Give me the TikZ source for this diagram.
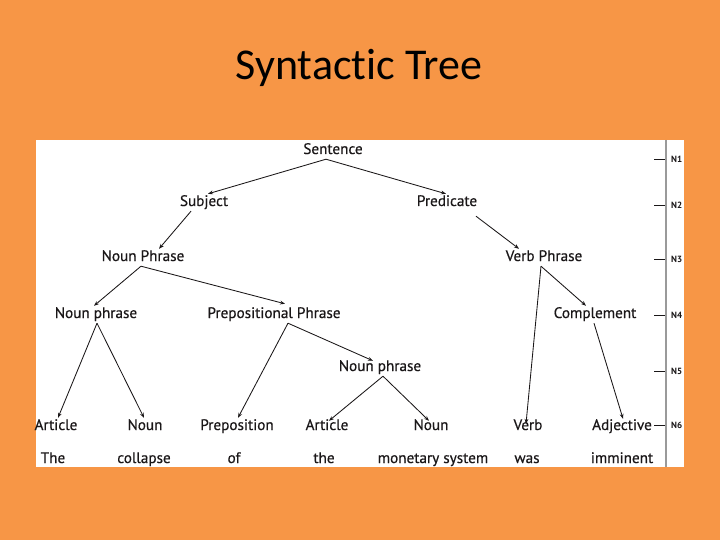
\documentclass[tikz,border=0pt]{standalone}
\usepackage{fontspec}
\setmainfont{PT Sans}
\newfontfamily\treefont[FakeBold=0.5]{PT Sans}
\newfontfamily\titlefont[Ligatures=NoCommon]{Carlito}
\usetikzlibrary{arrows.meta}

\definecolor{slideorange}{HTML}{F79646}
\definecolor{ink}{HTML}{1A1718}
\definecolor{rulegray}{HTML}{9A9A9A}

\begin{document}
\begin{tikzpicture}[
    x=1pt,y=-1pt,
    lbl/.style={
        text=ink,
        anchor=base,
        inner sep=2pt,
        text height=10pt,
        text depth=3pt,
        font=\treefont\fontsize{15.2}{17}\selectfont,
    },
    word/.style={
        lbl,
    },
    lvl/.style={
        text=ink,
        anchor=west,
        inner sep=0pt,
        font=\bfseries\fontsize{9}{10}\selectfont,
    },
    br/.style={
        draw=ink,
        line width=0.85pt,
        -{Stealth[length=5pt,width=3.8pt]},
    },
]

\useasboundingbox (0,0) rectangle (720,540);
\fill[slideorange] (0,0) rectangle (720,540);
\fill[white] (36,140) rectangle (684,467);
\draw[rulegray, line width=1.6pt] (666,140) -- (666,467);

\node[text=black, anchor=base, inner sep=0pt,
      font=\titlefont\fontsize{44}{48}\selectfont] (title) at (359,80) {Syntactic Tree};

% tree
\node[lbl] (sent) at (333,154) {Sentence};
\node[lbl] (subj) at (204,206) {Subject};
\node[lbl] (pred) at (447,206) {Predicate};
\node[lbl] (np)   at (143,261) {Noun Phrase};
\node[lbl] (vp)   at (544,261) {Verb Phrase};
\node[lbl] (npl)  at (96,318)  {Noun phrase};
\node[lbl] (pp)   at (274,318) {Prepositional Phrase};
\node[lbl] (comp) at (595,318) {Complement};
\node[lbl] (npm)  at (380,371) {Noun phrase};

\node[lbl] (art1)  at (56,430)  {Article};
\node[lbl] (noun1) at (145,430) {Noun};
\node[lbl] (prep)  at (237,430) {Preposition};
\node[lbl] (art2)  at (327,430) {Article};
\node[lbl] (noun2) at (431,430) {Noun};
\node[lbl] (verb)  at (528,430) {Verb};
\node[lbl] (adj)   at (622,430) {Adjective};

\node[word] (w1) at (53,463)  {The};
\node[word] (w2) at (144,463) {collapse};
\node[word] (w3) at (234,463) {of};
\node[word] (w4) at (324,463) {the};
\node[word] (w5) at (433,463) {monetary system};
\node[word] (w6) at (527,463) {was};
\node[word] (w7) at (622,463) {imminent};

\draw[br] ([xshift=-7pt]sent.south) -- ([xshift=4pt]subj.north);
\draw[br] ([xshift=-7pt]sent.south) -- ([xshift=-1pt]pred.north);
\draw[br] ([xshift=-13pt]subj.south) -- ([xshift=16pt]np.north);
\draw[br] ([xshift=29pt,yshift=-5pt]pred.south) -- ([xshift=-25pt]vp.north);

\draw[br] ([xshift=-2pt]np.south) -- ([xshift=-2pt]npl.north);
\draw[br] ([xshift=-2pt]np.south) -- ([xshift=11pt,yshift=2pt]pp.north);
\draw[br] ([xshift=-3pt]vp.south) -- ([xshift=-9pt]comp.north);
\draw[br] ([xshift=-3pt]vp.south) -- ([xshift=-2pt,yshift=-6pt]verb.north);

\draw[br] ([xshift=1pt]npl.south) -- ([xshift=2pt]art1.north);
\draw[br] ([xshift=1pt]npl.south) -- ([xshift=-1pt]noun1.north);
\draw[br] ([xshift=14pt]pp.south) -- ([xshift=1pt]prep.north);
\draw[br] ([xshift=14pt]pp.south) -- ([xshift=-7pt,yshift=-2pt]npm.north);
\draw[br] ([xshift=3pt]npm.south) -- ([xshift=2pt,yshift=-3pt]art2.north);
\draw[br] ([xshift=3pt]npm.south) -- ([xshift=-2pt,yshift=-3pt]noun2.north);
\draw[br] ([xshift=-1pt]comp.south) -- ([xshift=1pt,yshift=-1pt]adj.north);

% levels
\foreach \n/\y in {1/159,2/205,3/259,4/315,5/371,6/425} {
    \node[lvl] (lv\n) at (671,\y) {N\n};
    \draw[ink, line width=0.8pt] (654,\y) -- (665,\y);
}

\end{tikzpicture}
\end{document}
